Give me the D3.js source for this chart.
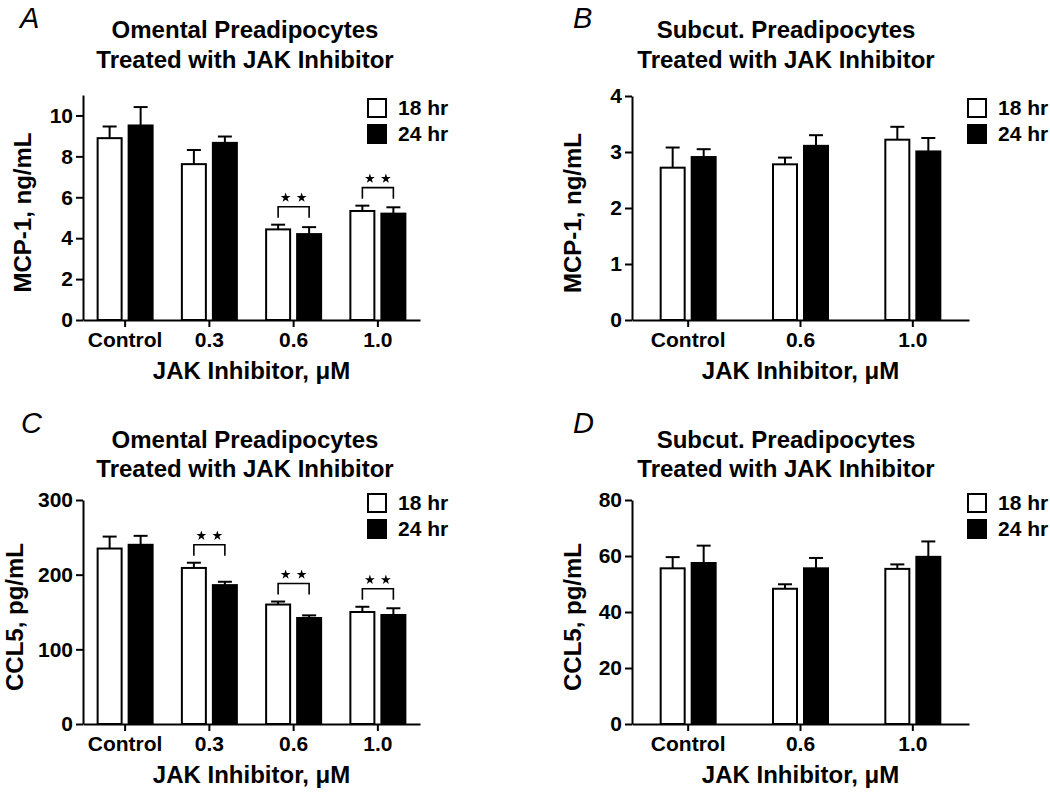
<!DOCTYPE html>
<html>
<head>
<meta charset="utf-8">
<script src="https://cdn.jsdelivr.net/npm/d3@7"></script>
<style>
  html, body { margin: 0; padding: 0; background: #fff; }
  svg { display: block; }
  text { font-family: "Liberation Sans", Arial, Helvetica, sans-serif; fill: #000; }
</style>
</head>
<body>
<svg id="chart" width="1050" height="793"></svg>
<script>
// ---------- DATA ----------
const dosesOmental = ["Control", "0.3", "0.6", "1.0"];
const dosesSubcut  = ["Control", "0.6", "1.0"];
const seriesNames  = ["18 hr", "24 hr"];

// Panel A: MCP-1 (ng/mL), omental
const mcpOmental18    = [8.89, 7.62, 4.43, 5.33];
const mcpOmental18Err = [0.57, 0.69, 0.23, 0.26];
const mcpOmental24    = [9.51, 8.66, 4.20, 5.20];
const mcpOmental24Err = [0.90, 0.31, 0.34, 0.31];
const mcpOmentalSig   = [false, false, true, true];
const mcpOmentalTicks = [0, 2, 4, 6, 8, 10];

// Panel B: MCP-1 (ng/mL), subcutaneous
const mcpSubcut18    = [2.72, 2.78, 3.22];
const mcpSubcut18Err = [0.36, 0.12, 0.23];
const mcpSubcut24    = [2.91, 3.11, 3.01];
const mcpSubcut24Err = [0.14, 0.19, 0.24];
const mcpSubcutSig   = [false, false, false];
const mcpSubcutTicks = [0, 1, 2, 3, 4];

// Panel C: CCL5 (pg/mL), omental
const cclOmental18    = [235, 209, 160, 150];
const cclOmental18Err = [16, 7, 4, 7];
const cclOmental24    = [240, 186, 142, 146];
const cclOmental24Err = [12, 4.5, 3.5, 9];
const cclOmentalSig   = [false, true, true, true];
const cclOmentalTicks = [0, 100, 200, 300];

// Panel D: CCL5 (pg/mL), subcutaneous
const cclSubcut18    = [55.6, 48.3, 55.4];
const cclSubcut18Err = [4.0, 1.6, 1.6];
const cclSubcut24    = [57.5, 55.6, 59.7];
const cclSubcut24Err = [6.2, 3.7, 5.5];
const cclSubcutSig   = [false, false, false];
const cclSubcutTicks = [0, 20, 40, 60, 80];

const xAxisTitle = "JAK Inhibitor, \u03BCM";

// ---------- LAYOUT ----------
const panels = [
  { letter: "A", letterX: 20, letterY: 28,
    title: ["Omental Preadipocytes", "Treated with JAK Inhibitor"], titleX: 245, titleY: [38, 68],
    cats: dosesOmental, v18: mcpOmental18, e18: mcpOmental18Err, v24: mcpOmental24, e24: mcpOmental24Err,
    sig: mcpOmentalSig, ticks: mcpOmentalTicks, ymax: 11, yLabel: "MCP-1, ng/mL",
    x0: 83, x1: 420, yTop: 95, yBot: 320, yLabelX: 31, legX: 367, legY: 98 },
  { letter: "B", letterX: 573, letterY: 28,
    title: ["Subcut. Preadipocytes", "Treated with JAK Inhibitor"], titleX: 786, titleY: [38, 68],
    cats: dosesSubcut, v18: mcpSubcut18, e18: mcpSubcut18Err, v24: mcpSubcut24, e24: mcpSubcut24Err,
    sig: mcpSubcutSig, ticks: mcpSubcutTicks, ymax: 4, yLabel: "MCP-1, ng/mL",
    x0: 632, x1: 969, yTop: 96, yBot: 320, yLabelX: 581, legX: 967, legY: 98 },
  { letter: "C", letterX: 21, letterY: 433,
    title: ["Omental Preadipocytes", "Treated with JAK Inhibitor"], titleX: 245, titleY: [448, 477],
    cats: dosesOmental, v18: cclOmental18, e18: cclOmental18Err, v24: cclOmental24, e24: cclOmental24Err,
    sig: cclOmentalSig, ticks: cclOmentalTicks, ymax: 300, yLabel: "CCL5, pg/mL",
    x0: 83, x1: 420, yTop: 500, yBot: 724, yLabelX: 23, legX: 367, legY: 493 },
  { letter: "D", letterX: 573, letterY: 433,
    title: ["Subcut. Preadipocytes", "Treated with JAK Inhibitor"], titleX: 786, titleY: [448, 477],
    cats: dosesSubcut, v18: cclSubcut18, e18: cclSubcut18Err, v24: cclSubcut24, e24: cclSubcut24Err,
    sig: cclSubcutSig, ticks: cclSubcutTicks, ymax: 80, yLabel: "CCL5, pg/mL",
    x0: 632, x1: 969, yTop: 500, yBot: 724, yLabelX: 581, legX: 967, legY: 493 }
];

const svg = d3.select("#chart");
svg.append("rect").attr("width", 1050).attr("height", 793).attr("fill", "#fff");

const BAR_W = 26, GAP = 5, CAP = 14, LW = 2;

panels.forEach(p => {
  const g = svg.append("g");
  const x = d3.scaleBand().domain(p.cats).range([p.x0, p.x1]).padding(0);
  const y = d3.scaleLinear().domain([0, p.ymax]).range([p.yBot, p.yTop]);

  // panel letter
  g.append("text").attr("x", p.letterX).attr("y", p.letterY)
    .attr("font-size", 29).attr("font-style", "italic").text(p.letter);

  // title
  p.title.forEach((t, i) => {
    g.append("text").attr("x", p.titleX).attr("y", p.titleY[i])
      .attr("text-anchor", "middle").attr("font-size", 24).attr("font-weight", "bold").text(t);
  });

  const rows = p.cats.map((c, i) => ({
    cat: c, i,
    bars: [
      { s: 0, v: p.v18[i], e: p.e18[i] },
      { s: 1, v: p.v24[i], e: p.e24[i] }
    ]
  }));
  const cx = c => x(c) + x.bandwidth() / 2;
  const barLeft = (c, s) => s === 0 ? cx(c) - GAP / 2 - BAR_W : cx(c) + GAP / 2;

  // error bars (upward only), drawn under bars
  rows.forEach(r => {
    r.bars.forEach(b => {
      const mx = barLeft(r.cat, b.s) + BAR_W / 2;
      g.append("line").attr("x1", mx).attr("x2", mx)
        .attr("y1", y(b.v)).attr("y2", y(b.v + b.e))
        .attr("stroke", "#000").attr("stroke-width", LW);
      g.append("line").attr("x1", mx - CAP / 2).attr("x2", mx + CAP / 2)
        .attr("y1", y(b.v + b.e)).attr("y2", y(b.v + b.e))
        .attr("stroke", "#000").attr("stroke-width", LW);
    });
  });

  // bars
  rows.forEach(r => {
    r.bars.forEach(b => {
      g.append("rect")
        .attr("x", barLeft(r.cat, b.s) + LW / 2)
        .attr("y", y(b.v))
        .attr("width", BAR_W - LW)
        .attr("height", y(0) - y(b.v))
        .attr("fill", b.s === 0 ? "#fff" : "#000")
        .attr("stroke", "#000").attr("stroke-width", LW);
    });
  });

  // significance brackets
  rows.forEach(r => {
    if (!p.sig[r.i]) return;
    const topErr = Math.min(...r.bars.map(b => y(b.v + b.e)));
    const legBottom = topErr - 7;
    const legTop = legBottom - 11;
    const xa = barLeft(r.cat, 0) + BAR_W / 2;
    const xb = barLeft(r.cat, 1) + BAR_W / 2;
    g.append("path")
      .attr("d", `M${xa},${legBottom}V${legTop}H${xb}V${legBottom}`)
      .attr("fill", "none").attr("stroke", "#000").attr("stroke-width", 1.6);
    const star = d3.symbol().type(d3.symbolStar).size(30);
    [-8, 8].forEach(dx => {
      g.append("path").attr("d", star())
        .attr("transform", `translate(${(xa + xb) / 2 + dx},${legTop - 9})`)
        .attr("fill", "#000");
    });
  });

  // axes
  const yAxis = d3.axisLeft(y).tickValues(p.ticks).tickSize(7).tickSizeOuter(0).tickPadding(3)
    .tickFormat(d3.format("d"));
  const ya = g.append("g").attr("transform", `translate(${p.x0},0)`).call(yAxis);
  const xAxis = d3.axisBottom(x).tickSize(7).tickSizeOuter(0).tickPadding(5);
  const xa = g.append("g").attr("transform", `translate(0,${p.yBot})`).call(xAxis);
  [ya, xa].forEach(a => {
    a.select(".domain").attr("stroke", "#000").attr("stroke-width", LW);
    a.selectAll(".tick line").attr("stroke", "#000").attr("stroke-width", LW);
    a.selectAll(".tick text").attr("font-size", 21).attr("font-weight", "bold")
      .attr("font-family", "'Liberation Sans', Arial, sans-serif").attr("fill", "#000");
  });

  // axis titles
  g.append("text").attr("x", (p.x0 + p.x1) / 2).attr("y", p.yBot + 59)
    .attr("text-anchor", "middle").attr("font-size", 24).attr("font-weight", "bold").text(xAxisTitle);
  g.append("text")
    .attr("transform", `translate(${p.yLabelX},${(p.yTop + p.yBot) / 2 + 5}) rotate(-90)`)
    .attr("text-anchor", "middle").attr("font-size", 24).attr("font-weight", "bold").text(p.yLabel);

  // legend
  seriesNames.forEach((n, i) => {
    g.append("rect").attr("x", p.legX + 1).attr("y", p.legY + i * 26 + 1)
      .attr("width", 18).attr("height", 18)
      .attr("fill", i === 0 ? "#fff" : "#000").attr("stroke", "#000").attr("stroke-width", LW);
    g.append("text").attr("x", p.legX + 31).attr("y", p.legY + i * 26 + 17)
      .attr("font-size", 21).attr("font-weight", "bold").text(n);
  });
});
</script>
</body>
</html>
